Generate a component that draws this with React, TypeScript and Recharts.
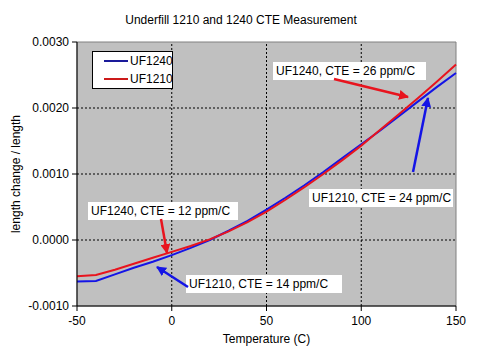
import { LineChart, Line, XAxis, YAxis, ReferenceArea, ReferenceLine } from 'recharts';

const temps = [-50, -40, -30, -20, -10, 0, 10, 20, 30, 40, 50, 60, 70, 80, 90, 100, 110, 120, 130, 140, 150];
const uf1240 = [-0.00063, -0.00062, -0.00052, -0.00042, -0.00033, -0.00023, -0.00012, 0.0, 0.00014, 0.00029, 0.00046, 0.00064, 0.00083, 0.00103, 0.00124, 0.00145, 0.00166, 0.00188, 0.0021, 0.00232, 0.00253];
const uf1210 = [-0.00055, -0.00053, -0.00045, -0.00036, -0.00027, -0.00018, -0.00009, 0.00001, 0.00013, 0.00027, 0.00043, 0.00061, 0.0008, 0.001, 0.00121, 0.00143, 0.00167, 0.00191, 0.00215, 0.0024, 0.00266];
const xTicks = [-50, 0, 50, 100, 150];
const yTicks = [-0.001, 0, 0.001, 0.002, 0.003];
const xGrid = [0, 50, 100];
const yGrid = [0, 0.001, 0.002];

const data = temps.map((t, i) => ({ t, uf1240: uf1240[i], uf1210: uf1210[i] }));

const FONT = '"Liberation Sans", Arial, sans-serif';
const BLUE = '#1414e6';
const RED = '#e8141e';

function Note({ x, y, w, text }: { x: number; y: number; w: number; text: string }) {
  return (
    <g>
      <rect x={x} y={y} width={w} height={18} fill="#fff" />
      <text x={x + 3} y={y + 13} fontSize={12} fontFamily={FONT} fill="#000">{text}</text>
    </g>
  );
}

export default function App() {
  return (
    <div style={{ position: 'absolute', left: 0, top: 0, width: 482, height: 360, background: '#fff', fontFamily: FONT }}>
      <div style={{ position: 'absolute', left: 0, top: 13, width: 482, textAlign: 'center', fontSize: 12 }}>
        Underfill 1210 and 1240 CTE Measurement
      </div>
      <LineChart width={482} height={360} data={data} margin={{ top: 42, right: 26, bottom: 24, left: 8 }}>
        <ReferenceArea x1={-50} x2={150} y1={-0.001} y2={0.003} fill="#c0c0c0" fillOpacity={1} stroke="#808080" strokeWidth={1} />
        {xGrid.map((v) => (
          <ReferenceLine key={'x' + v} x={v} stroke="#000" strokeDasharray="2 2" />
        ))}
        {yGrid.map((v) => (
          <ReferenceLine key={'y' + v} y={v} stroke="#000" strokeDasharray="2 2" />
        ))}
        <XAxis
          dataKey="t"
          type="number"
          domain={[-50, 150]}
          ticks={xTicks}
          height={30}
          stroke="#000"
          tickSize={5}
          tickMargin={5}
          tick={{ fill: '#000', fontSize: 12, fontFamily: FONT }}
          label={{ value: 'Temperature (C)', position: 'bottom', offset: -2, fill: '#000', fontSize: 12, fontFamily: FONT }}
        />
        <YAxis
          type="number"
          domain={[-0.001, 0.003]}
          ticks={yTicks}
          width={69}
          stroke="#000"
          tickSize={5}
          tickMargin={3}
          tickFormatter={(v: number) => v.toFixed(4)}
          tick={{ fill: '#000', fontSize: 12, fontFamily: FONT }}
          label={{ value: 'length change / length', angle: -90, position: 'insideLeft', offset: 0, dx: 8, fill: '#000', fontSize: 12, fontFamily: FONT, style: { textAnchor: 'middle' } }}
        />
        <Line dataKey="uf1240" stroke={BLUE} strokeWidth={2} dot={false} type="linear" isAnimationActive={false} />
        <Line dataKey="uf1210" stroke={RED} strokeWidth={2} dot={false} type="linear" isAnimationActive={false} />
      </LineChart>
      <svg width={482} height={360} style={{ position: 'absolute', left: 0, top: 0, pointerEvents: 'none' }}>
        <defs>
          <marker id="ahR" viewBox="0 0 10 10" refX={9} refY={5} markerWidth={4} markerHeight={4} orient="auto">
            <path d="M0,0 L10,5 L0,10 z" fill={RED} />
          </marker>
          <marker id="ahB" viewBox="0 0 10 10" refX={9} refY={5} markerWidth={4} markerHeight={4} orient="auto">
            <path d="M0,0 L10,5 L0,10 z" fill={BLUE} />
          </marker>
        </defs>
        <g transform="translate(92,51)">
          <rect x={0.5} y={0.5} width={80} height={37} fill="#fff" stroke="#000" />
          <line x1={12} y1={10} x2={36} y2={10} stroke="#1a1a9a" strokeWidth={2} />
          <text x={38} y={14} fontSize={12} fontFamily={FONT}>UF1240</text>
          <line x1={12} y1={28} x2={36} y2={28} stroke="#cc1a1a" strokeWidth={2} />
          <text x={38} y={32} fontSize={12} fontFamily={FONT}>UF1210</text>
        </g>
        <Note x={273} y={62} w={153} text="UF1240, CTE = 26 ppm/C" />
        <line x1={334} y1={79} x2={408} y2={97} stroke={RED} strokeWidth={2.5} markerEnd="url(#ahR)" />
        <Note x={309} y={189} w={144} text="UF1210, CTE = 24 ppm/C" />
        <line x1={413} y1={172} x2={428} y2={98} stroke={BLUE} strokeWidth={2.5} markerEnd="url(#ahB)" />
        <Note x={88} y={202} w={150} text="UF1240, CTE = 12 ppm/C" />
        <line x1={161} y1={219} x2={167} y2={253} stroke={RED} strokeWidth={2.5} markerEnd="url(#ahR)" />
        <Note x={186} y={275} w={156} text="UF1210, CTE = 14 ppm/C" />
        <line x1={188} y1={287} x2={157} y2={267} stroke={BLUE} strokeWidth={2.5} markerEnd="url(#ahB)" />
      </svg>
    </div>
  );
}
